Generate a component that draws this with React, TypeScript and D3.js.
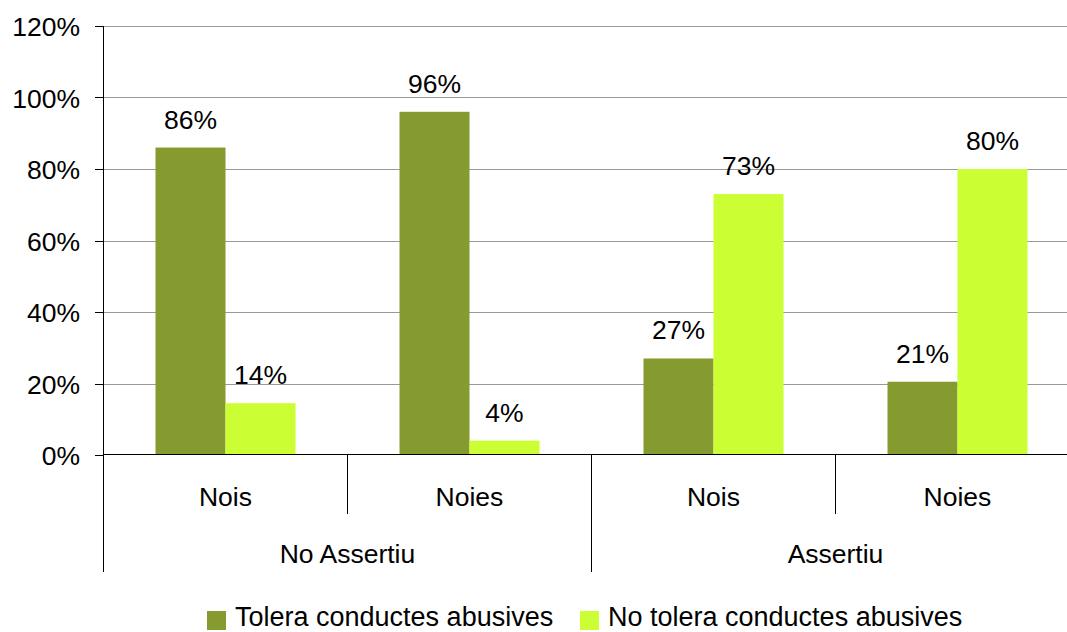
import React, { useEffect, useRef } from "react";
import * as d3 from "d3";

const categories = ["Nois", "Noies", "Nois", "Noies"];
const groups = ["No Assertiu", "Assertiu"];
const seriesNames = ["Tolera conductes abusives", "No tolera conductes abusives"];
const tolera = [86, 96, 27, 20.5];
const noTolera = [14.5, 4, 73, 80];
const labelsTolera = ["86%", "96%", "27%", "21%"];
const labelsNoTolera = ["14%", "4%", "73%", "80%"];
const yTicks = [0, 20, 40, 60, 80, 100, 120];
const colors = ["#869B2F", "#CCFF33"];

export default function App() {
  const ref = useRef<SVGSVGElement>(null);
  useEffect(() => {
    document.body.style.margin = "0";
    const svg = d3.select(ref.current);
    svg.selectAll("*").remove();
    const left = 103.5, right = 1079.5, top = 26, bottom = 455;
    const font = "'Liberation Sans', Arial, sans-serif";
    const fs = 26.5;
    const y = d3.scaleLinear().domain([0, 120]).range([bottom, top]);
    const x = d3.scaleBand<number>().domain(d3.range(categories.length)).range([left, right]).paddingInner(0).paddingOuter(0);
    const bw = 70;

    // gridlines
    svg.append("g").selectAll("line").data(yTicks.filter(t => t > 0)).join("line")
      .attr("x1", left).attr("x2", right)
      .attr("y1", d => Math.round(y(d)) + 0.5).attr("y2", d => Math.round(y(d)) + 0.5)
      .attr("stroke", "#999").attr("stroke-width", 1);

    // bars
    const series = [tolera, noTolera];
    const lbls = [labelsTolera, labelsNoTolera];
    series.forEach((vals, si) => {
      const g = svg.append("g");
      vals.forEach((v, i) => {
        const cx = x(i)! + x.bandwidth() / 2;
        const bx = si === 0 ? cx - bw : cx;
        g.append("rect").attr("x", bx).attr("y", y(v)).attr("width", bw).attr("height", bottom - y(v)).attr("fill", colors[si]);
        g.append("text").attr("x", bx + bw / 2).attr("y", y(v) - 19).attr("text-anchor", "middle")
          .attr("font-family", font).attr("font-size", fs).attr("fill", "#000").text(lbls[si][i]);
      });
    });

    // y axis
    svg.append("line").attr("x1", left).attr("x2", left).attr("y1", top).attr("y2", 572).attr("stroke", "#000");
    svg.append("g").selectAll("line").data(yTicks).join("line")
      .attr("x1", 95).attr("x2", left).attr("y1", d => Math.round(y(d)) + 0.5).attr("y2", d => Math.round(y(d)) + 0.5)
      .attr("stroke", "#000");
    svg.append("g").selectAll("text").data(yTicks).join("text")
      .attr("x", 80).attr("y", d => y(d) + 10).attr("text-anchor", "end")
      .attr("font-family", font).attr("font-size", fs).attr("fill", "#000").text(d => d + "%");

    // x axis
    svg.append("line").attr("x1", left).attr("x2", right).attr("y1", bottom - 0.5).attr("y2", bottom - 0.5).attr("stroke", "#000");
    d3.range(1, categories.length + 1).forEach(i => {
      const xx = i < categories.length ? x(i)! : right;
      const long = i % 2 === 0;
      svg.append("line").attr("x1", xx).attr("x2", xx).attr("y1", bottom).attr("y2", long ? 572 : 514).attr("stroke", "#000");
    });
    categories.forEach((c, i) => {
      svg.append("text").attr("x", x(i)! + x.bandwidth() / 2).attr("y", 506).attr("text-anchor", "middle")
        .attr("font-family", font).attr("font-size", fs).attr("fill", "#000").text(c);
    });
    groups.forEach((gname, gi) => {
      const cx = x(gi * 2)! + x.bandwidth();
      svg.append("text").attr("x", cx).attr("y", 563).attr("text-anchor", "middle")
        .attr("font-family", font).attr("font-size", fs).attr("fill", "#000").text(gname);
    });

    // legend
    const legX = [207, 580];
    seriesNames.forEach((s, i) => {
      svg.append("rect").attr("x", legX[i]).attr("y", 611).attr("width", 19).attr("height", 19).attr("fill", colors[i]);
      svg.append("text").attr("x", legX[i] + 28).attr("y", 626).attr("font-family", font).attr("font-size", 27)
        .attr("fill", "#000").text(s);
    });
  }, []);
  return <svg ref={ref} width={1067} height={632} style={{ display: "block", background: "#fff" }} />;
}
